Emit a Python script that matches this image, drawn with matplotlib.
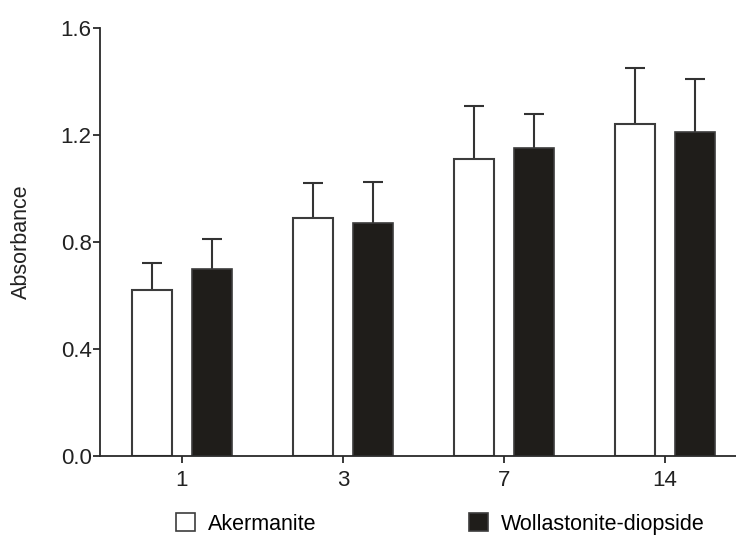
import numpy as np
import matplotlib.pyplot as plt
from matplotlib.patches import Patch

plt.rcParams['font.family'] = ['Liberation Sans', 'DejaVu Sans']

days = ['1', '3', '7', '14']
akermanite = [0.62, 0.89, 1.11, 1.24]
akermanite_err = [0.10, 0.13, 0.20, 0.21]
wd = [0.70, 0.87, 1.15, 1.21]
wd_err = [0.11, 0.155, 0.13, 0.20]

edge = '#3c3c3c'
fill_dark = '#1f1d1a'
fs = 16

fig = plt.figure(figsize=(7.36, 5.35), dpi=100)
ax = fig.add_axes([100 / 736, 79 / 535, 636 / 736, 428 / 535])

x = np.arange(len(days))
off = 0.186
w = 0.25

ax.bar(x - off, akermanite, w, color='white', edgecolor=edge, linewidth=1.5, zorder=2)
ax.bar(x + off, wd, w, color=fill_dark, edgecolor=edge, linewidth=1.2, zorder=2)

# upper error bars only
for xs, vals, errs in [(x - off, akermanite, akermanite_err), (x + off, wd, wd_err)]:
    _, caps, _ = ax.errorbar(xs, vals, yerr=[np.zeros(len(errs)), errs], fmt='none',
                             ecolor='#333333', elinewidth=1.5, capsize=7.5,
                             capthick=1.5, zorder=1)
    caps[0].set_visible(False)

ax.set_xlim(-0.509, 3.441)
ax.set_ylim(0, 1.6)
ax.set_yticks([0.0, 0.4, 0.8, 1.2, 1.6])
ax.set_yticklabels(['0.0', '0.4', '0.8', '1.2', '1.6'])
ax.set_xticks(x)
ax.set_xticklabels(days)

for s in ['top', 'right']:
    ax.spines[s].set_visible(False)
for s in ['left', 'bottom']:
    ax.spines[s].set_linewidth(1.3)
    ax.spines[s].set_color('#2a2a2a')

ax.tick_params(axis='y', length=5, width=1.3, pad=1, labelsize=fs, colors='#2a2a2a',
               labelcolor='#222222')
ax.tick_params(axis='x', length=5, width=1.3, pad=5, labelsize=fs, colors='#2a2a2a',
               labelcolor='#222222')

ax.set_ylabel('Absorbance', fontsize=15.5, color='#222222')
ax.yaxis.set_label_coords(-0.107, 0.5)

handles = [Patch(facecolor='white', edgecolor=edge, linewidth=1.2, label='Akermanite'),
           Patch(facecolor=fill_dark, edgecolor=edge, linewidth=1.2,
                 label='Wollastonite-diopside')]
fig.legend(handles=handles, ncol=2, loc='center', bbox_to_anchor=(0.5985, 0.0206),
           frameon=False, fontsize=15.5, handlelength=0.88, handleheight=0.88,
           handletextpad=0.6, columnspacing=7.1, borderpad=0)

fig.savefig('out.png', dpi=100)
